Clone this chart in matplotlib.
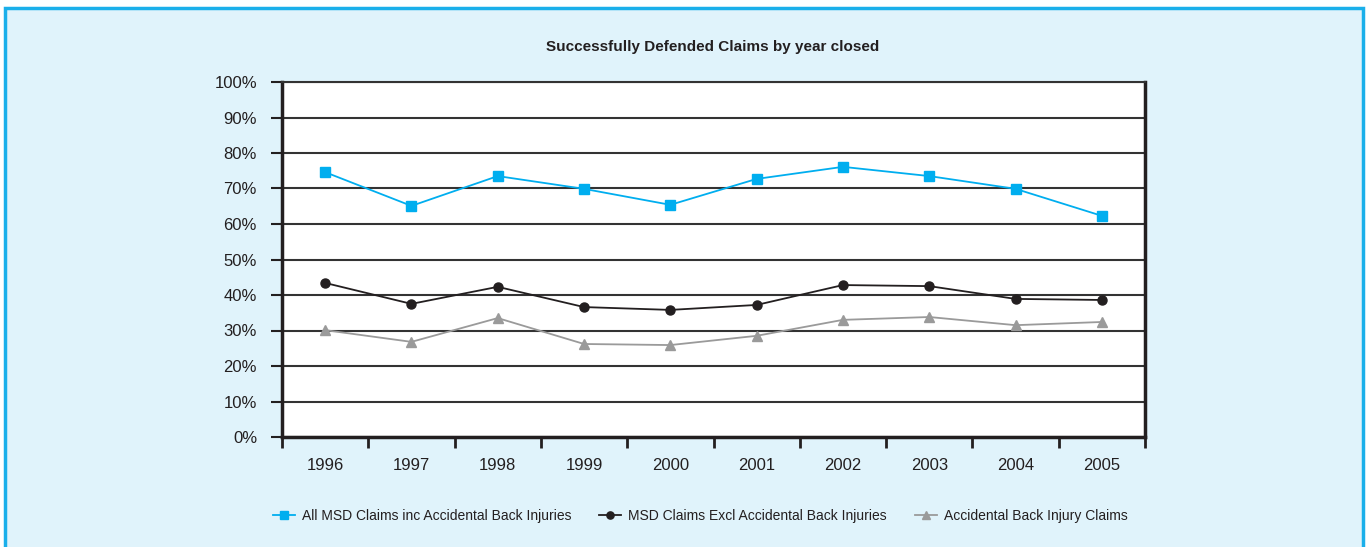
import matplotlib.pyplot as plt
from matplotlib.patches import Rectangle
import numpy as np

plt.rcParams['font.family'] = ['Liberation Sans', 'DejaVu Sans']

years = ["1996", "1997", "1998", "1999", "2000", "2001", "2002", "2003", "2004", "2005"]

# percentages
all_msd = [74.6, 65.1, 73.5, 69.9, 65.4, 72.7, 76.1, 73.5, 69.9, 62.3]
msd_excl = [43.4, 37.5, 42.3, 36.6, 35.8, 37.2, 42.8, 42.5, 38.9, 38.6]
back_injury = [30.1, 26.8, 33.5, 26.2, 25.9, 28.5, 33.0, 33.8, 31.5, 32.4]

blue = "#00AEEF"
dark = "#231F20"
grey = "#9A9A9A"

fig = plt.figure(figsize=(13.68, 5.47), dpi=100)
fig.patch.set_facecolor("white")

# light blue panel with border
fig.patches.append(Rectangle((5 / 1368, -0.01), 1358 / 1368, 1 - 8 / 547 + 0.01,
                             transform=fig.transFigure, facecolor="#E0F3FB",
                             edgecolor="#1AAFEA", linewidth=2.5, zorder=-10))

ax = fig.add_axes([282 / 1368, 1 - 437 / 547, 863 / 1368, 355 / 547])
ax.set_facecolor("white")

x = np.arange(len(years)) + 0.5
ax.plot(x, all_msd, color=blue, lw=1.3, marker="s", ms=6.5, mec=blue,
        label="All MSD Claims inc Accidental Back Injuries", zorder=3)
ax.plot(x, msd_excl, color=dark, lw=1.3, marker="o", ms=6.5,
        label="MSD Claims Excl Accidental Back Injuries", zorder=3)
ax.plot(x, back_injury, color=grey, lw=1.3, marker="^", ms=6.5,
        label="Accidental Back Injury Claims", zorder=3)

ax.set_xlim(0, len(years))
ax.set_ylim(0, 100)

yt = np.arange(0, 101, 10)
ax.set_yticks(yt)
ax.set_yticklabels([f"{v}%" for v in yt])
ax.yaxis.grid(True, color="#333333", lw=1.5)
ax.set_axisbelow(True)

ax.set_xticks(np.arange(len(years) + 1))
ax.set_xticklabels([])
ax.set_xticks(x, minor=True)
ax.set_xticklabels(years, minor=True)
ax.tick_params(axis="x", which="major", length=8, width=2, color=dark, direction="out")
ax.tick_params(axis="x", which="minor", length=0, pad=15, labelsize=12, labelcolor=dark)
ax.tick_params(axis="y", length=8, width=1.5, color=dark, pad=10, labelsize=12, labelcolor=dark)

for side in ["left", "right", "bottom"]:
    ax.spines[side].set_color(dark)
    ax.spines[side].set_linewidth(2.5)
ax.spines["top"].set_color("#333333")
ax.spines["top"].set_linewidth(1.5)

fig.text(713 / 1368, 1 - 47 / 547, "Successfully Defended Claims by year closed",
         ha="center", va="center", fontsize=11, fontweight="bold", color=dark)

fig.legend(loc="center", bbox_to_anchor=(700 / 1368, 1 - 516 / 547), ncol=3,
           frameon=False, fontsize=10, handlelength=1.6, columnspacing=2.0,
           handletextpad=0.5, markerscale=0.8, labelcolor=dark)

fig.savefig("out.png", dpi=100, facecolor=fig.get_facecolor())
